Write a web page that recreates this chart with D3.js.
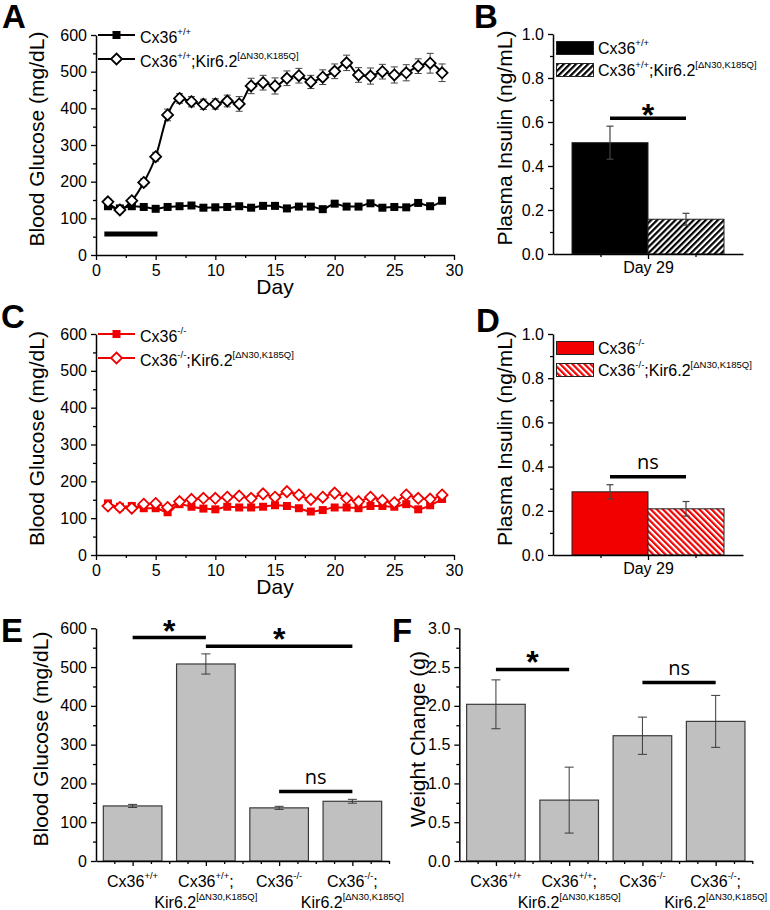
<!DOCTYPE html>
<html><head><meta charset="utf-8">
<script src="https://cdn.jsdelivr.net/npm/d3@7/dist/d3.min.js"></script>
<style>
body{margin:0;background:#fff;}
svg text{font-family:"Liberation Sans",Arial,Helvetica,sans-serif;fill:#000;}
</style></head><body>
<svg id="fig" width="770" height="910"></svg>
<script>
// ---------------- DATA ----------------
const days = [1,2,3,4,5,6,7,8,9,10,11,12,13,14,15,16,17,18,19,20,21,22,23,24,25,26,27,28,29];
const wtGlucose     = [133,127,133,131,126,131,133,135,129,130,131,133,129,134,134,127,132,132,125,140,132,132,141,129,131,130,142,133,148];
const wtGlucoseErr  = [6,5,5,5,6,5,5,6,5,5,5,6,5,6,6,5,5,6,6,7,6,5,7,6,5,6,7,6,8];
const wtKirGlucose  = [145,123,148,198,268,382,427,418,411,412,420,412,461,470,461,482,489,472,485,501,524,491,488,500,491,497,515,523,497];
const wtKirGlucoseErr = [8,8,8,10,12,16,13,14,14,14,16,20,21,20,22,20,20,18,20,20,21,20,22,20,22,22,20,27,24];
const koGlucose     = [140,131,133,127,127,116,138,131,126,124,131,129,129,131,135,133,127,118,122,129,129,127,133,133,131,138,124,135,152];
const koGlucoseErr  = [7,6,6,6,6,7,6,6,6,6,6,6,6,6,6,6,6,6,6,6,6,6,6,6,6,6,6,6,8];
const koKirGlucose  = [133,129,127,138,140,129,145,151,154,154,157,160,154,166,157,172,163,151,157,168,154,145,157,148,142,163,154,152,163];
const koKirGlucoseErr = [6,6,6,6,6,6,6,7,7,7,7,7,7,7,7,7,7,7,7,7,7,7,7,7,7,7,7,7,7];
const treatmentDays = [0.7, 5.15];
const treatmentLevel = 57;
const dayTickValues = [0,5,10,15,20,25,30];
const dayMinorTicks = [2.5,7.5,12.5,17.5,22.5,27.5];
const glucoseTicks = [0,100,200,300,400,500,600];
const glucoseMinor = [50,150,250,350,450,550];

const legendA = ["Cx36^{+/+}", "Cx36^{+/+};Kir6.2^{[\u0394N30,K185Q]}"];
const legendC = ["Cx36^{-/-}", "Cx36^{-/-};Kir6.2^{[\u0394N30,K185Q]}"];

const insulinTicks = [0,0.2,0.4,0.6,0.8,1.0];
const insulinMinor = [0.1,0.3,0.5,0.7,0.9];
const insulinCategory = "Day 29";
const insulinWT = [0.506, 0.158];
const insulinWTErr = [0.075, 0.027];
const insulinKO = [0.286, 0.209];
const insulinKOErr = [0.032, 0.033];
const sigB = [[0,1,0.617,"*"]];
const sigD = [[0,1,0.354,"ns"]];

const groupLine1 = ["Cx36^{+/+}", "Cx36^{+/+};", "Cx36^{-/-}", "Cx36^{-/-};"];
const groupLine2 = ["", "Kir6.2^{[\u0394N30,K185Q]}", "", "Kir6.2^{[\u0394N30,K185Q]}"];
const glucoseDay29 = [142, 508, 137, 154];
const glucoseDay29Err = [4, 26, 4, 5];
const weightChange = [2.02, 0.785, 1.615, 1.80];
const weightChangeErr = [0.315, 0.425, 0.24, 0.335];
const weightTicks = [0,0.5,1.0,1.5,2.0,2.5,3.0];
const weightMinor = [0.25,0.75,1.25,1.75,2.25,2.75];
const sigE = [[0,1,576,"*"],[1,3,554,"*"],[2,3,179,"ns"]];
const sigF = [[0,1,2.47,"*"],[2,3,2.30,"ns"]];

// ---------------- HELPERS ----------------
const svg = d3.select("#fig");
const defs = svg.append("defs");
const RED = "#f20000";
function hatch(id,color,angle){
  const w = 4.3;
  const p = defs.append("pattern").attr("id",id).attr("patternUnits","userSpaceOnUse")
    .attr("width",w).attr("height",w).attr("patternTransform",`rotate(${angle})`);
  p.append("rect").attr("width",w).attr("height",w).attr("fill","#fff");
  p.append("line").attr("x1",1.1).attr("x2",1.1).attr("y1",-1).attr("y2",w+1)
    .attr("stroke",color).attr("stroke-width",2.2);
}
hatch("hatchK","#000",45);
hatch("hatchR",RED,-45);

function rich(t, str, size, supSize, raise){
  const parts = str.split(/\^\{(.*?)\}/);
  let cur = 0;
  parts.forEach((p,i)=>{
    if(p==="") return;
    const sup = i%2===1;
    const target = sup ? -raise : 0;
    t.append("tspan").attr("dy", target-cur).attr("font-size", sup?supSize:size).text(p);
    cur = target;
  });
  return t;
}
function styleAxis(g){
  g.attr("font-family",null).attr("font-size",null);
  g.select(".domain").attr("stroke","#000").attr("stroke-width",1.5);
  g.selectAll(".tick line").attr("stroke","#000").attr("stroke-width",1.3);
  g.selectAll(".tick text").attr("font-size",16).attr("fill","#000");
}
function yAxis(x0, y, majors, minors, fmt){
  const g = svg.append("g").attr("transform",`translate(${x0},0)`)
    .call(d3.axisLeft(y).tickValues(majors).tickFormat(fmt).tickSize(5).tickSizeOuter(0).tickPadding(4));
  const m = svg.append("g").attr("transform",`translate(${x0},0)`)
    .call(d3.axisLeft(y).tickValues(minors).tickFormat("").tickSize(3).tickSizeOuter(0));
  m.select(".domain").remove();
  styleAxis(g); styleAxis(m);
}
function xAxis(y0, x, majors, minors, fmt, pad){
  const g = svg.append("g").attr("transform",`translate(0,${y0})`)
    .call(d3.axisBottom(x).tickValues(majors).tickFormat(fmt).tickSize(5).tickSizeOuter(0).tickPadding(pad));
  const m = svg.append("g").attr("transform",`translate(0,${y0})`)
    .call(d3.axisBottom(x).tickValues(minors).tickFormat("").tickSize(3).tickSizeOuter(0));
  m.select(".domain").remove();
  styleAxis(g); styleAxis(m);
  return g;
}
function yTitle(x, y, txt){
  svg.append("text").attr("transform",`translate(${x},${y}) rotate(-90)`)
    .attr("text-anchor","middle").attr("font-size",21).text(txt);
}
function letter(x, y, t){
  svg.append("text").attr("x",x).attr("y",y).attr("font-size",33).attr("font-weight","bold").text(t);
}
function sigMark(g, x1, x2, yy, label, starOffset){
  g.append("line").attr("x1",x1).attr("x2",x2).attr("y1",yy).attr("y2",yy).attr("stroke","#000").attr("stroke-width",3.5);
  if(label==="*") g.append("text").attr("x",(x1+x2)/2).attr("y",yy+starOffset).attr("text-anchor","middle")
      .attr("font-size",32).attr("font-weight","bold").text("*");
  else g.append("text").attr("x",(x1+x2)/2).attr("y",yy-8).attr("text-anchor","middle")
      .attr("font-size",20).style("font-family","'Open Sans',sans-serif").text(label);
}
const squarePath = "M-4,-4H4V4H-4Z";
const diamondPath = "M0,-5.5L5.5,0L0,5.5L-5.5,0Z";

function errBars(g, xs, vs, es, x, y, color, cap, width){
  const eg = g.append("g").attr("stroke",color).attr("stroke-width",width||1).attr("fill","none");
  xs.forEach((xv,i)=>{
    const cx = x(xv), t = y(vs[i]+es[i]), b = y(vs[i]-es[i]);
    eg.append("line").attr("x1",cx).attr("x2",cx).attr("y1",t).attr("y2",b);
    eg.append("line").attr("x1",cx-cap/2).attr("x2",cx+cap/2).attr("y1",t).attr("y2",t);
    eg.append("line").attr("x1",cx-cap/2).attr("x2",cx+cap/2).attr("y1",b).attr("y2",b);
  });
}

// ---------------- LINE PANELS (A, C) ----------------
function linePanel(o){
  const x = d3.scaleLinear().domain([0,30]).range([96,454]);
  const y = d3.scaleLinear().domain([0,600]).range([o.yb, o.yt]);
  const g = svg.append("g");
  const s1 = days.map((d,i)=>({d, v:o.s1[i]}));
  const s2 = days.map((d,i)=>({d, v:o.s2[i]}));
  const line = d3.line().x(p=>x(p.d)).y(p=>y(p.v)).curve(d3.curveMonotoneX);
  errBars(g, days, o.s1, o.e1, x, y, o.errColor, 7, 1);
  errBars(g, days, o.s2, o.e2, x, y, o.errColor, 7, 1);
  g.append("path").datum(s1).attr("d",line).attr("fill","none").attr("stroke",o.color).attr("stroke-width",2);
  g.append("path").datum(s2).attr("d",line).attr("fill","none").attr("stroke",o.color).attr("stroke-width",2);
  g.selectAll(".sq").data(s1).join("path").attr("d",squarePath)
    .attr("transform",p=>`translate(${x(p.d)},${y(p.v)})`).attr("fill",o.color);
  g.selectAll(".dm").data(s2).join("path").attr("d",diamondPath)
    .attr("transform",p=>`translate(${x(p.d)},${y(p.v)})`).attr("fill","#fff").attr("stroke",o.color).attr("stroke-width",1.8);
  if(o.treatment){
    g.append("line").attr("x1",x(treatmentDays[0])).attr("x2",x(treatmentDays[1]))
      .attr("y1",y(treatmentLevel)).attr("y2",y(treatmentLevel)).attr("stroke","#000").attr("stroke-width",5);
  }
  yAxis(96, y, glucoseTicks, glucoseMinor, d3.format("d"));
  xAxis(o.yb, x, dayTickValues, dayMinorTicks, d3.format("d"), 5);
  svg.append("text").attr("x",275).attr("y",o.yb+39).attr("text-anchor","middle").attr("font-size",21).text("Day");
  yTitle(44, (o.yb+o.yt)/2-6, "Blood Glucose (mg/dL)");
  // legend
  const ly = [o.yt, o.yt+24];
  [[squarePath,o.color,"none"],[diamondPath,"#fff",o.color]].forEach((m,i)=>{
    svg.append("line").attr("x1",98).attr("x2",135).attr("y1",ly[i]).attr("y2",ly[i]).attr("stroke",o.color).attr("stroke-width",2);
    svg.append("path").attr("d",m[0]).attr("transform",`translate(116.5,${ly[i]})`).attr("fill",m[1])
      .attr("stroke",m[2]).attr("stroke-width",1.8);
    rich(svg.append("text").attr("x",140).attr("y",ly[i]+8), o.legend[i], 16, 9.5, 8);
  });
}
linePanel({yb:255, yt:35, s1:wtGlucose, e1:wtGlucoseErr, s2:wtKirGlucose, e2:wtKirGlucoseErr,
  color:"#000", errColor:"#444", legend:legendA, treatment:true});
linePanel({yb:555, yt:334, s1:koGlucose, e1:koGlucoseErr, s2:koKirGlucose, e2:koKirGlucoseErr,
  color:RED, errColor:RED, legend:legendC, treatment:false});

// ---------------- INSULIN PANELS (B, D) ----------------
function insulinPanel(o){
  const x = d3.scaleLinear().domain([0,2]).range([553,743]);
  const y = d3.scaleLinear().domain([0,1]).range([o.yb, o.yt]);
  const g = svg.append("g");
  const fills = [o.solid, o.hatch];
  o.vals.forEach((v,i)=>{
    g.append("rect").attr("x",x(0.2+0.8*i)).attr("width",x(1.0)-x(0.2))
      .attr("y",y(v)).attr("height",y(0)-y(v)).attr("fill",fills[i]).attr("stroke","#222").attr("stroke-width",1);
  });
  errBars(g, [0.6,1.4], o.vals, o.errs, x, y, "#444", 7, 1.2);
  o.sig.forEach(s=>sigMark(g, x(0.6+0.8*s[0]), x(0.6+0.8*s[1]), y(s[2]), s[3], 8));
  yAxis(553, y, insulinTicks, insulinMinor, d3.format(".1f"));
  xAxis(o.yb, x, [1], [0.5,1.5], ()=>insulinCategory, 3);
  yTitle(512, (o.yb+o.yt)/2-6, "Plasma Insulin (ng/mL)");
  const ry = [o.yt+7.5, o.yt+29.5];
  fills.forEach((f,i)=>{
    svg.append("rect").attr("x",556.5).attr("y",ry[i]).attr("width",37).attr("height",13)
      .attr("fill",f).attr("stroke","#222").attr("stroke-width",1);
    rich(svg.append("text").attr("x",598).attr("y",ry[i]+12.5), o.legend[i], 16, 9.5, 8);
  });
}
insulinPanel({yb:254, yt:34, vals:insulinWT, errs:insulinWTErr, solid:"#000", hatch:"url(#hatchK)", sig:sigB, legend:legendA});
insulinPanel({yb:555, yt:334, vals:insulinKO, errs:insulinKOErr, solid:RED, hatch:"url(#hatchR)", sig:sigD, legend:legendC});

// ---------------- BAR PANELS (E, F) ----------------
function barPanel(o){
  const idx = [0,1,2,3];
  const xb = d3.scaleBand().domain(idx).range([o.x0, o.x0+293]).paddingInner(0.2).paddingOuter(0.1);
  const y = d3.scaleLinear().domain([0,o.max]).range([861, 628.3]);
  const g = svg.append("g");
  g.selectAll("rect").data(o.vals).join("rect")
    .attr("x",(v,i)=>xb(i)).attr("width",xb.bandwidth()).attr("y",v=>y(v)).attr("height",v=>y(0)-y(v))
    .attr("fill","#c0c0c0").attr("stroke","#3a3a3a").attr("stroke-width",1.2);
  const cx = i=>xb(i)+xb.bandwidth()/2;
  errBars(g, idx, o.vals, o.errs, i=>cx(i), y, "#3a3a3a", 9, 1);
  o.sig.forEach(s=>sigMark(g, cx(s[0]), cx(s[1]), y(s[2]), s[3], 4));
  yAxis(o.x0, y, o.ticks, o.minor, o.fmt);
  const xl = d3.scaleLinear().domain([0,4]).range([o.x0, o.x0+293]);
  xAxis(861, xl, [0.5,1.5,2.5,3.5], [0.25,0.75,1,1.25,1.75,2,2.25,2.75,3,3.25,3.75,4], ()=>"", 3);
  idx.forEach(i=>{
    rich(svg.append("text").attr("x",cx(i)).attr("y",887).attr("text-anchor","middle"), groupLine1[i], 16, 9.5, 8);
    if(groupLine2[i]) rich(svg.append("text").attr("x",cx(i)).attr("y",908).attr("text-anchor","middle"), groupLine2[i], 16, 9.5, 8);
  });
  yTitle(o.titleX, 739, o.title);
}
barPanel({x0:96, max:600, vals:glucoseDay29, errs:glucoseDay29Err, ticks:glucoseTicks, minor:glucoseMinor,
  fmt:d3.format("d"), sig:sigE, title:"Blood Glucose (mg/dL)", titleX:48});
barPanel({x0:459.3, max:3, vals:weightChange, errs:weightChangeErr, ticks:weightTicks, minor:weightMinor,
  fmt:d3.format(".1f"), sig:sigF, title:"Weight Change (g)", titleX:425});

// ---------------- PANEL LETTERS ----------------
letter(2, 28, "A");
letter(474, 28, "B");
letter(1, 328, "C");
letter(476, 332, "D");
letter(1, 642, "E");
letter(392, 642, "F");
</script>
</body></html>
